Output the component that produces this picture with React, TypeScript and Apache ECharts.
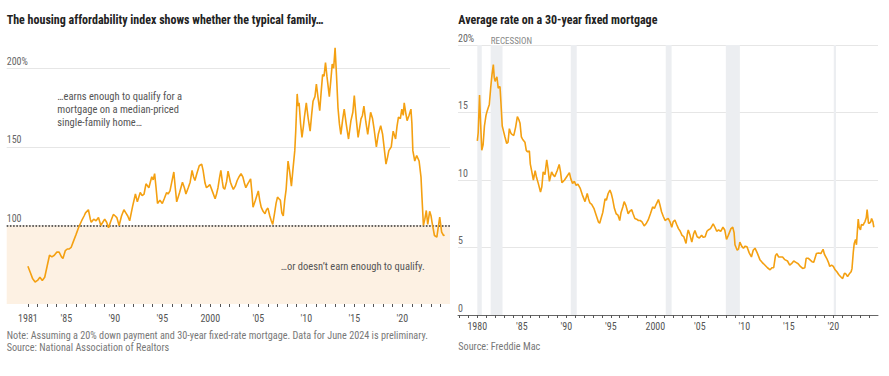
import React, { useEffect, useRef } from 'react';
import * as echarts from 'echarts';

// Housing affordability index (decimal year, index)
const affordability: [number, number][] = [
  [1981.0, 74], [1981.25, 70], [1981.5, 66], [1981.75, 64], [1982.0, 65], [1982.25, 67], [1982.5, 65], [1982.75, 67],
  [1983.0, 74], [1983.25, 81], [1983.5, 80], [1983.75, 81], [1984.0, 83], [1984.25, 83], [1984.5, 80], [1984.65, 79],
  [1984.9, 84], [1985.1, 85], [1985.3, 85], [1985.5, 86], [1985.75, 90], [1986.0, 94], [1986.3, 99], [1986.6, 103],
  [1986.85, 106], [1987.0, 108], [1987.3, 110], [1987.5, 104], [1987.6, 102], [1987.85, 104], [1988.1, 103], [1988.35, 105],
  [1988.6, 100], [1988.8, 102], [1989.0, 104], [1989.2, 102], [1989.4, 98.5], [1989.65, 103], [1989.9, 107], [1990.1, 106],
  [1990.26, 105], [1990.5, 100], [1990.75, 106], [1991.0, 110], [1991.2, 108], [1991.4, 106], [1991.6, 103], [1991.9, 112],
  [1992.2, 120], [1992.4, 115], [1992.7, 121], [1992.9, 119], [1993.1, 120], [1993.3, 126.5], [1993.6, 124], [1993.9, 131],
  [1994.05, 129], [1994.2, 133], [1994.35, 124], [1994.5, 114], [1994.75, 116], [1995.0, 114], [1995.2, 117], [1995.45, 121],
  [1995.6, 120], [1995.8, 122], [1996.0, 128], [1996.2, 134], [1996.35, 124], [1996.5, 115], [1996.8, 121], [1997.1, 127.5],
  [1997.3, 124], [1997.46, 120], [1997.7, 124], [1997.9, 127.5], [1998.1, 135], [1998.25, 131], [1998.4, 128.6], [1998.6, 133],
  [1998.85, 138], [1999.1, 139], [1999.25, 135], [1999.45, 127], [1999.6, 124], [1999.8, 125], [1999.95, 126], [2000.2, 122],
  [2000.5, 117], [2000.65, 120], [2000.8, 124], [2000.95, 130], [2001.1, 135], [2001.25, 128], [2001.35, 124], [2001.5, 123],
  [2001.7, 128], [2001.85, 134.5], [2002.1, 127.5], [2002.25, 125], [2002.4, 123], [2002.6, 125], [2002.8, 128.6], [2003.0, 131],
  [2003.2, 133], [2003.4, 130.7], [2003.55, 127], [2003.7, 124], [2003.9, 126.5], [2004.05, 128], [2004.2, 129.7], [2004.35, 120],
  [2004.45, 111.6], [2004.7, 116], [2005.0, 122], [2005.15, 116], [2005.3, 111.6], [2005.5, 109], [2005.7, 107.4], [2005.85, 110],
  [2006.0, 111], [2006.2, 106], [2006.35, 103], [2006.5, 100.6], [2006.7, 108], [2006.85, 114], [2007.0, 118], [2007.15, 117],
  [2007.3, 116], [2007.45, 108], [2007.6, 106], [2007.75, 116], [2007.9, 123], [2008.1, 141], [2008.25, 135], [2008.45, 125],
  [2008.6, 135], [2008.8, 147.6], [2008.9, 160], [2009.05, 183.7], [2009.15, 176], [2009.25, 178], [2009.4, 165], [2009.55, 156],
  [2009.7, 163], [2009.8, 168.8], [2010.0, 178], [2010.2, 168], [2010.4, 160], [2010.55, 170], [2010.7, 179], [2010.9, 182],
  [2011.05, 190], [2011.25, 180], [2011.4, 173], [2011.55, 185], [2011.7, 196], [2011.85, 195], [2012.0, 203.7], [2012.15, 195],
  [2012.4, 182], [2012.55, 192], [2012.7, 202.7], [2012.85, 200], [2013.0, 213], [2013.15, 195], [2013.3, 175], [2013.45, 164.6],
  [2013.6, 158], [2013.8, 168], [2013.95, 174], [2014.15, 165], [2014.4, 155], [2014.55, 162], [2014.65, 166.7], [2014.85, 172],
  [2015.0, 182.6], [2015.2, 168], [2015.4, 156], [2015.55, 162], [2015.7, 167.8], [2015.85, 170], [2016.0, 176], [2016.2, 166],
  [2016.4, 158], [2016.55, 165], [2016.7, 172], [2016.9, 168], [2017.05, 162], [2017.3, 150], [2017.5, 158], [2017.75, 163.5],
  [2017.95, 158], [2018.1, 150], [2018.3, 139], [2018.45, 143], [2018.6, 147.6], [2018.85, 150], [2019.05, 160], [2019.2, 157],
  [2019.3, 155], [2019.45, 163], [2019.6, 169], [2019.8, 168], [2019.95, 174], [2020.1, 170], [2020.2, 178], [2020.35, 172],
  [2020.5, 166.7], [2020.7, 170], [2020.9, 174], [2021.0, 165], [2021.1, 147.6], [2021.3, 141], [2021.5, 144.5], [2021.75, 141],
  [2021.95, 130.7], [2022.05, 118], [2022.2, 100], [2022.35, 104], [2022.5, 109.5], [2022.65, 100.6], [2022.85, 109], [2023.0, 106],
  [2023.1, 102], [2023.35, 93.6], [2023.6, 92.6], [2023.75, 99], [2023.9, 105.3], [2024.1, 95.7], [2024.3, 93.6], [2024.4, 94],
];

// Average 30-year fixed mortgage rate (decimal year, percent)
const mortgageRate: [number, number][] = [
  [1980.0, 12.9], [1980.1, 13.5], [1980.25, 16.3], [1980.35, 14.5], [1980.5, 12.2], [1980.65, 12.6], [1980.8, 14.0], [1980.98, 14.8],
  [1981.1, 15.1], [1981.2, 15.3], [1981.35, 15.6], [1981.5, 16.8], [1981.65, 17.8], [1981.8, 18.55], [1981.9, 17.6], [1982.0, 17.3],
  [1982.1, 17.5], [1982.2, 17.65], [1982.35, 16.8], [1982.45, 16.9], [1982.55, 16.9], [1982.65, 15.8], [1982.8, 14.0], [1982.95, 13.6],
  [1983.1, 13.2], [1983.3, 12.7], [1983.45, 12.8], [1983.6, 13.8], [1983.75, 13.5], [1983.85, 13.4], [1984.1, 13.3], [1984.3, 13.9],
  [1984.5, 14.7], [1984.65, 14.5], [1984.8, 14.2], [1984.95, 13.2], [1985.1, 13.0], [1985.35, 12.8], [1985.5, 12.2], [1985.6, 12.1],
  [1985.85, 12.15], [1985.95, 11.2], [1986.1, 10.7], [1986.3, 10.0], [1986.5, 10.7], [1986.65, 10.2], [1986.85, 9.75], [1987.1, 9.1],
  [1987.25, 9.5], [1987.4, 10.6], [1987.6, 10.4], [1987.8, 11.5], [1987.95, 10.8], [1988.1, 9.9], [1988.35, 10.6], [1988.5, 10.4],
  [1988.7, 10.25], [1988.98, 10.7], [1989.2, 11.15], [1989.35, 10.6], [1989.5, 9.8], [1989.65, 9.9], [1989.8, 10.0], [1990.1, 10.3],
  [1990.35, 10.55], [1990.5, 10.1], [1990.7, 9.75], [1990.9, 9.9], [1991.1, 9.6], [1991.3, 9.7], [1991.55, 9.4], [1991.8, 8.9],
  [1992.1, 8.4], [1992.35, 9.0], [1992.5, 8.6], [1992.65, 8.3], [1992.85, 8.2], [1993.1, 7.9], [1993.3, 7.5], [1993.6, 6.9],
  [1993.75, 6.8], [1993.9, 7.15], [1994.1, 7.6], [1994.35, 8.6], [1994.5, 8.5], [1994.7, 9.0], [1994.9, 9.25], [1995.05, 9.0],
  [1995.2, 8.6], [1995.4, 7.9], [1995.6, 7.5], [1995.8, 7.4], [1996.0, 7.0], [1996.15, 7.6], [1996.35, 8.0], [1996.5, 8.4],
  [1996.7, 8.1], [1996.95, 7.5], [1997.15, 7.7], [1997.35, 7.8], [1997.5, 7.5], [1997.7, 7.15], [1997.9, 7.1], [1998.1, 7.0],
  [1998.3, 7.0], [1998.5, 6.9], [1998.75, 6.6], [1999.0, 6.8], [1999.2, 7.04], [1999.45, 7.5], [1999.7, 8.0], [1999.9, 7.9],
  [2000.1, 8.2], [2000.35, 8.55], [2000.5, 8.2], [2000.7, 7.65], [2000.9, 7.3], [2001.1, 7.0], [2001.3, 7.1], [2001.45, 7.15],
  [2001.65, 6.9], [2001.85, 6.5], [2002.0, 6.9], [2002.2, 7.04], [2002.4, 6.7], [2002.6, 6.4], [2002.8, 6.2], [2003.0, 5.9],
  [2003.2, 5.8], [2003.45, 5.3], [2003.6, 6.0], [2003.7, 6.3], [2003.9, 5.9], [2004.1, 5.4], [2004.3, 6.0], [2004.45, 6.25],
  [2004.7, 5.8], [2004.95, 5.7], [2005.2, 5.9], [2005.4, 5.75], [2005.6, 5.8], [2005.8, 6.2], [2005.95, 6.3], [2006.2, 6.4],
  [2006.5, 6.75], [2006.7, 6.5], [2006.9, 6.2], [2007.1, 6.3], [2007.35, 6.2], [2007.6, 6.5], [2007.8, 6.3], [2008.0, 5.6],
  [2008.2, 5.9], [2008.5, 6.4], [2008.7, 6.5], [2008.85, 6.1], [2008.95, 5.2], [2009.2, 4.8], [2009.35, 4.9], [2009.5, 5.4],
  [2009.7, 5.1], [2009.9, 4.95], [2010.1, 5.1], [2010.3, 5.05], [2010.55, 4.6], [2010.8, 4.3], [2011.0, 4.8], [2011.2, 4.95],
  [2011.45, 4.6], [2011.75, 4.1], [2012.0, 3.9], [2012.3, 3.7], [2012.6, 3.5], [2012.9, 3.35], [2013.1, 3.5], [2013.3, 3.5],
  [2013.5, 4.4], [2013.65, 4.55], [2013.85, 4.3], [2014.0, 4.3], [2014.3, 4.3], [2014.55, 4.1], [2014.85, 4.0], [2015.1, 3.7],
  [2015.3, 3.8], [2015.55, 4.0], [2015.8, 3.9], [2016.05, 3.8], [2016.3, 3.6], [2016.55, 3.45], [2016.8, 3.5], [2016.95, 4.2],
  [2017.2, 4.2], [2017.6, 3.95], [2017.8, 3.9], [2018.1, 4.55], [2018.35, 4.6], [2018.6, 4.55], [2018.85, 4.87], [2019.0, 4.5],
  [2019.25, 4.2], [2019.45, 3.9], [2019.6, 3.6], [2019.8, 3.7], [2020.0, 3.6], [2020.2, 3.35], [2020.4, 3.2], [2020.6, 3.0],
  [2020.8, 2.85], [2021.05, 2.7], [2021.25, 3.1], [2021.4, 3.05], [2021.6, 2.85], [2021.8, 3.05], [2022.0, 3.2], [2022.1, 3.45],
  [2022.25, 4.7], [2022.35, 5.3], [2022.5, 5.6], [2022.6, 5.2], [2022.7, 6.2], [2022.8, 7.1], [2022.9, 6.5], [2023.05, 6.3],
  [2023.15, 6.7], [2023.35, 6.65], [2023.45, 6.8], [2023.55, 6.9], [2023.7, 7.2], [2023.8, 7.8], [2023.95, 6.8], [2024.05, 6.8],
  [2024.2, 6.9], [2024.3, 7.15], [2024.45, 6.9], [2024.55, 6.5],
];

// Recession periods (start, end in decimal years)
const recessions: [number, number][] = [
  [1980.0, 1980.5], [1981.5, 1982.83], [1990.5, 1991.17], [2001.17, 2001.83], [2007.92, 2009.5], [2020.05, 2020.3],
];

const leftLabelYears = [1981, 1985, 1990, 1995, 2000, 2005, 2010, 2015, 2020];
const rightLabelYears = [1980, 1985, 1990, 1995, 2000, 2005, 2010, 2015, 2020];
const leftYTicks = [50, 100, 150, 200];
const rightYTicks = [0, 5, 10, 15, 20];

const FONT = '"Liberation Sans Narrow", "Roboto Condensed", "DejaVu Sans Condensed", Roboto, sans-serif';
const ORANGE = '#f4a011';

function yearRange(a: number, b: number) {
  const out: number[] = [];
  for (let y = a; y <= b; y++) out.push(y);
  return out;
}

function yearLabel(v: number) {
  const y = Math.round(v);
  if (y === 1981 || y === 1980 || y === 2000) return String(y);
  return "'" + String(y).slice(2);
}

export default function App() {
  const ref = useRef<HTMLDivElement>(null);
  useEffect(() => {
    if (!ref.current) return;
    const chart = echarts.init(ref.current, undefined, { renderer: 'svg' });
    const txt = (text: string, x: number, y: number, opts: any = {}) => ({
      type: 'text',
      x,
      y,
      z: 100,
      silent: true,
      style: {
        text,
        fill: opts.fill || '#666',
        fontSize: opts.fontSize || 10,
        fontWeight: opts.fontWeight || 'normal',
        fontFamily: FONT,
        verticalAlign: opts.verticalAlign || 'middle',
        align: 'left',
        lineHeight: opts.lineHeight,
      },
    });
    chart.setOption({
      animation: false,
      backgroundColor: '#ffffff',
      textStyle: { fontFamily: FONT },
      grid: [
        { left: 6.7, top: 68.3, width: 443.3, height: 235.7 },
        { left: 458, top: 45, width: 420, height: 270 },
      ],
      xAxis: [
        {
          type: 'value', gridIndex: 0, min: 1978.79, max: 2024.97,
          axisLine: { show: false },
          axisTick: { show: true, length: 3, customValues: yearRange(1981, 2024), lineStyle: { color: '#555' } },
          axisLabel: { customValues: leftLabelYears, formatter: yearLabel, margin: 9, color: '#555', fontSize: 10, fontFamily: FONT },
          splitLine: { show: false },
        },
        {
          type: 'value', gridIndex: 1, min: 1977.83, max: 2025.02,
          axisLine: { show: true, lineStyle: { color: '#666', width: 1 } },
          axisTick: { show: true, length: 3, customValues: yearRange(1978, 2024), lineStyle: { color: '#555' } },
          axisLabel: { customValues: rightLabelYears, formatter: yearLabel, margin: 6, color: '#555', fontSize: 10, fontFamily: FONT },
          splitLine: { show: false },
        },
      ],
      yAxis: [
        {
          type: 'value', gridIndex: 0, min: 50, max: 200, interval: 50,
          axisLine: { show: false }, axisTick: { show: false },
          axisLabel: {
            inside: true, margin: 0, verticalAlign: 'bottom', color: '#666', fontSize: 10, fontFamily: FONT,
            padding: [0, 0, 2, 0], customValues: leftYTicks,
            formatter: (v: number) => (v === 200 ? '200%' : String(v)),
          },
          splitLine: { show: true, showMinLine: false, lineStyle: { color: '#e6e6e6', width: 1 } },
        },
        {
          type: 'value', gridIndex: 1, min: 0, max: 20, interval: 5,
          axisLine: { show: false }, axisTick: { show: false },
          axisLabel: {
            inside: true, margin: 0, verticalAlign: 'bottom', color: '#666', fontSize: 10, fontFamily: FONT,
            padding: [0, 0, 2, 0], customValues: rightYTicks,
            formatter: (v: number) => (v === 20 ? '20%' : String(v)),
          },
          splitLine: { show: true, showMinLine: false, lineStyle: { color: '#e6e6e6', width: 1 } },
        },
      ],
      series: [
        {
          type: 'line', xAxisIndex: 0, yAxisIndex: 0, data: affordability, showSymbol: false, clip: false,
          lineStyle: { color: ORANGE, width: 1.6 }, itemStyle: { color: ORANGE }, z: 5,
          markArea: {
            silent: true, itemStyle: { color: '#fdf1e3' },
            data: [[{ yAxis: 50 }, { yAxis: 100 }]],
          },
          markLine: {
            silent: true, symbol: 'none', label: { show: false },
            lineStyle: { color: '#333', width: 1.6, type: [1.6, 1.6] },
            data: [{ yAxis: 100 }],
          },
        },
        {
          type: 'line', xAxisIndex: 1, yAxisIndex: 1, data: mortgageRate, showSymbol: false,
          lineStyle: { color: ORANGE, width: 1.6 }, itemStyle: { color: ORANGE }, z: 5,
          markArea: {
            silent: true, itemStyle: { color: '#eceef1' },
            data: recessions.map(([a, b]) => [{ xAxis: a }, { xAxis: b }]),
          },
        },
      ],
      graphic: [
        txt('The housing affordability index shows whether the typical family\u2026', 6.7, 20, { fill: '#222', fontSize: 12, fontWeight: 'bold' }),
        txt('Average rate on a 30-year fixed mortgage', 458.3, 19.7, { fill: '#222', fontSize: 12, fontWeight: 'bold' }),
        txt('\u2026earns enough to qualify for a\nmortgage on a median-priced\nsingle-family home\u2026', 57.3, 90.3, { fill: '#555', fontSize: 10.5, verticalAlign: 'top', lineHeight: 12.8 }),
        txt('\u2026or doesn\u2019t earn enough to qualify.', 280.7, 266, { fill: '#555', fontSize: 10.5 }),
        txt('RECESSION', 490.7, 40.7, { fill: '#888', fontSize: 9 }),
        txt('Note: Assuming a 20% down payment and 30-year fixed-rate mortgage. Data for June 2024 is preliminary.', 6.7, 335.7, { fill: '#777', fontSize: 10.2 }),
        txt('Source: National Association of Realtors', 6.7, 347.7, { fill: '#777', fontSize: 10.2 }),
        txt('Source: Freddie Mac', 458.3, 346.7, { fill: '#777', fontSize: 10.2 }),
      ],
    });
    return () => chart.dispose();
  }, []);
  return (
    <div
      ref={ref}
      style={{ position: 'fixed', left: 0, top: 0, width: 889, height: 376, background: '#fff' }}
    />
  );
}
